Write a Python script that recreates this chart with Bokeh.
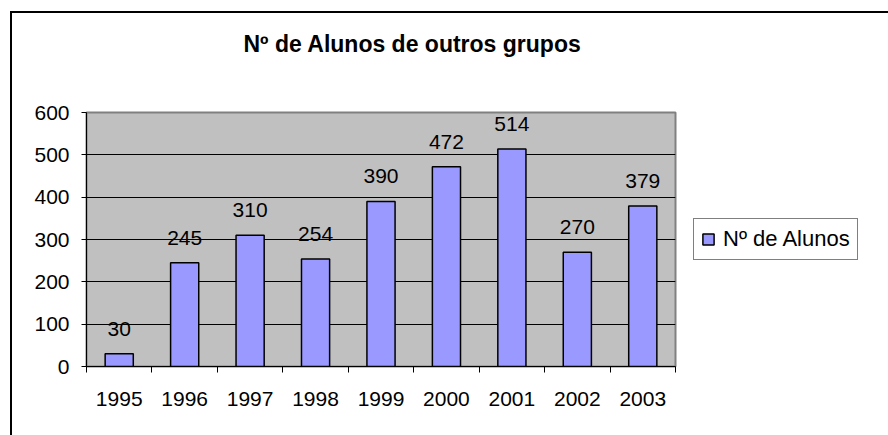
from bokeh.plotting import figure
from bokeh.models import (Range1d, FixedTicker, Legend, LegendItem, Title,
                          ColumnDataSource, InlineStyleSheet)
from bokeh.core.properties import value
from bokeh.embed import file_html
from bokeh.resources import INLINE

# ---- data ----
years = ["1995", "1996", "1997", "1998", "1999", "2000", "2001", "2002", "2003"]
alunos = [30, 245, 310, 254, 390, 472, 514, 270, 379]
series_name = "Nº de Alunos"
chart_title = "Nº de Alunos de outros grupos"
y_ticks = [0, 100, 200, 300, 400, 500, 600]

FONT = "Liberation Sans"

xs = [i + 0.5 for i in range(len(years))]
src = ColumnDataSource(dict(x=xs, top=alunos, lab=[str(v) for v in alunos]))

p = figure(frame_width=589, frame_height=254, output_backend="svg",
           toolbar_location=None,
           x_range=Range1d(0, len(years)), y_range=Range1d(0, 600),
           min_border_left=86, min_border_right=213, min_border_top=112,
           min_border_bottom=69, title=chart_title)

p.background_fill_color = "#C0C0C0"
p.border_fill_color = "white"
p.outline_line_color = "#808080"
p.outline_line_width = 2

# title (outermost item of the top panel)
p.title.align = "left"
p.title.offset = 157
p.title.vertical_align = "bottom"
p.title.text_font = FONT
p.title.text_font_size = "23px"
p.title.text_font_style = "bold"
p.title.text_color = "black"
p.title.standoff = 0

# spacer between title and plot area
spacer = Title(text=" ", text_font_size="2px", standoff=52)
p.add_layout(spacer, "above")

# grid
p.xgrid.visible = False
p.ygrid.grid_line_color = "black"
p.ygrid.grid_line_width = 1
p.ygrid.ticker = FixedTicker(ticks=y_ticks)

# y axis
p.yaxis.ticker = FixedTicker(ticks=y_ticks)
p.yaxis.axis_line_color = "black"
p.yaxis.major_tick_line_color = "black"
p.yaxis.major_tick_out = 5
p.yaxis.major_tick_in = 0
p.yaxis.minor_tick_line_color = None
p.yaxis.major_label_text_font = FONT
p.yaxis.major_label_text_font_size = "21px"
p.yaxis.major_label_text_color = "black"
p.yaxis.major_label_standoff = 12

# x axis: labels at category centres, tick marks at boundaries
p.xaxis.ticker = FixedTicker(ticks=xs, minor_ticks=list(range(len(years) + 1)))
p.xaxis.major_label_overrides = {x: y for x, y in zip(xs, years)}
p.xaxis.axis_line_color = "black"
p.xaxis.major_tick_line_color = None
p.xaxis.major_tick_out = 0
p.xaxis.major_tick_in = 0
p.xaxis.minor_tick_line_color = "black"
p.xaxis.minor_tick_out = 6
p.xaxis.minor_tick_in = 0
p.xaxis.major_label_text_font = FONT
p.xaxis.major_label_text_font_size = "21px"
p.xaxis.major_label_text_color = "black"
p.xaxis.major_label_standoff = 19

# bars
bars = p.vbar(x="x", top="top", width=0.43, bottom=0, source=src,
              fill_color="#9999FF", line_color="black", line_width=1.5)

# data labels
p.text(x="x", y="top", text="lab", source=src, text_align="center",
       text_baseline="alphabetic", y_offset=-25, text_font=value(FONT),
       text_font_size="21px", text_color="black")

# legend in the right-hand panel
legend = Legend(items=[LegendItem(label=series_name, renderers=[bars])],
                location="left")
legend.label_text_font = FONT
legend.label_text_font_size = "22px"
legend.label_text_color = "black"
legend.glyph_width = 14
legend.glyph_height = 14
legend.label_standoff = 8
legend.padding = 7
legend.margin = 18
legend.spacing = 0
legend.border_line_color = "black"
legend.border_line_width = 1
legend.background_fill_color = "white"
legend.background_fill_alpha = 1
p.add_layout(legend, "right")

# outer chart border (left and top edges visible, rest lies off the picture)
p.stylesheets = [InlineStyleSheet(css="""
:host { position: relative; }
:host::after {
  content: "";
  position: absolute;
  left: 10px; top: 11px;
  width: 878px; height: 424px;
  border-left: 2px solid black;
  border-top: 2px solid black;
  box-sizing: border-box;
  pointer-events: none;
  z-index: 10;
}
""")]

open("out.html", "w").write(file_html(p, INLINE))
